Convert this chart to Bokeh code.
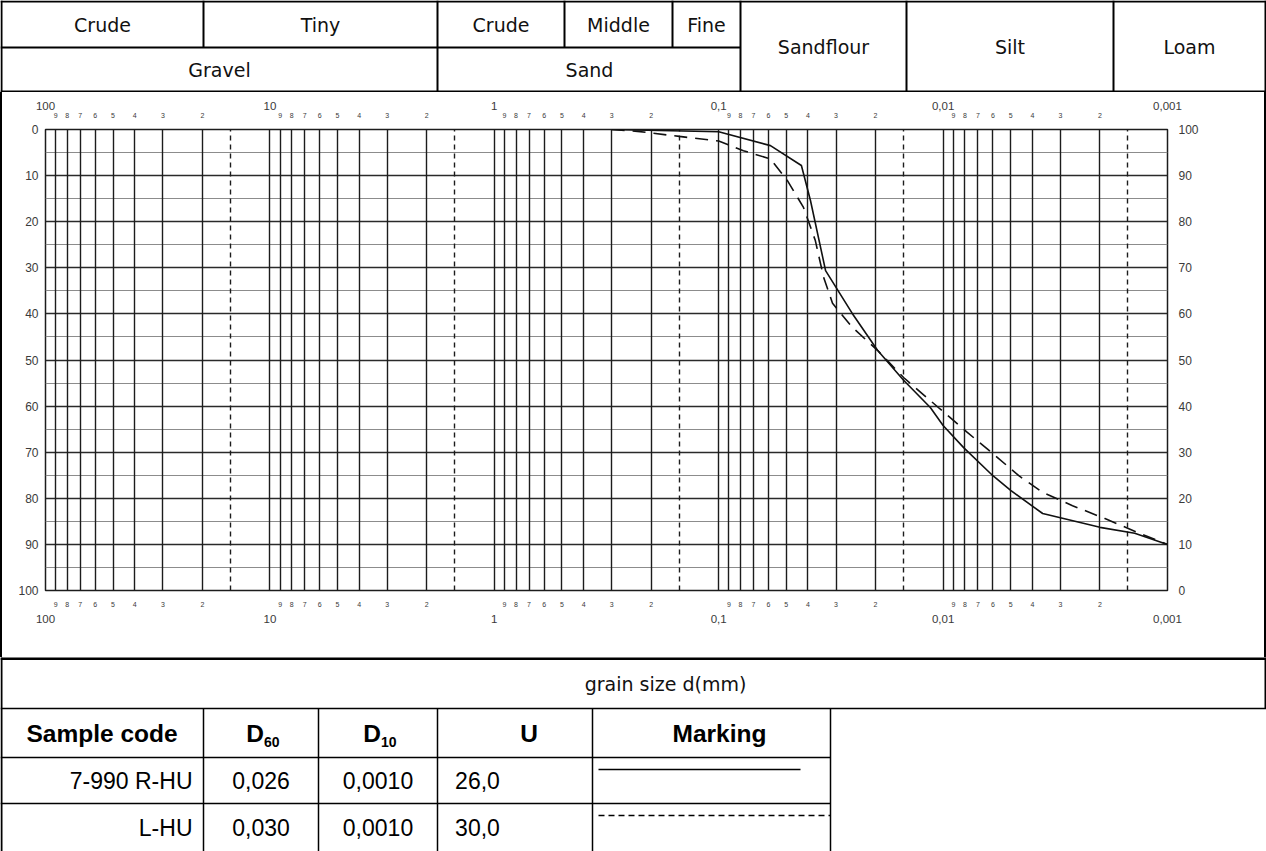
from bokeh.plotting import figure
from bokeh.models import Range1d, LinearAxis, LogAxis, FixedTicker, Grid, Spacer
from bokeh.layouts import column, row
from bokeh.embed import file_html
from bokeh.resources import INLINE
from bokeh.core.properties import value

# ---------------- data ----------------
# grain size (mm) and percent passing
solid_d = [0.3, 0.1, 0.0588, 0.0428, 0.039, 0.0334, 0.0254, 0.0196, 0.0150, 0.0114,
           0.0100, 0.0081, 0.0060, 0.0050, 0.0036, 0.0020, 0.0014, 0.0010]
solid_pass = [100, 99.5, 96.5, 92.2, 84.6, 69.4, 60.1, 52.1, 45.6, 39.7,
              35.8, 31.0, 24.9, 21.7, 16.7, 13.7, 12.4, 10.0]
dashed_d = [0.3, 0.23, 0.15, 0.10, 0.0776, 0.0588, 0.0494, 0.0419, 0.0371, 0.0341,
            0.0311, 0.0254, 0.0196, 0.0150, 0.0105, 0.0078, 0.0060, 0.0046, 0.0036,
            0.00265, 0.0019, 0.00136, 0.0010]
dashed_pass = [100, 99.6, 98.5, 97.5, 95.4, 93.6, 88.9, 83.1, 75.9, 68.0,
               62.3, 57.1, 52.1, 46.2, 39.7, 34.3, 29.7, 24.9, 21.3,
               18.4, 15.6, 12.6, 10.0]

decades = [100, 10, 1, 0.1, 0.01, 0.001]
decade_labels = ["100", "10", "1", "0,1", "0,01", "0,001"]
minor_digits = [9, 8, 7, 6, 5, 4, 3, 2]
boundary_sizes = [15, 1.5, 0.15, 0.015, 0.0015]
pct_ticks = [0, 10, 20, 30, 40, 50, 60, 70, 80, 90, 100]
pct_half_ticks = [5, 15, 25, 35, 45, 55, 65, 75, 85, 95]

header_row1 = ["Crude", "Tiny", "Crude", "Middle", "Fine"]
header_row2 = ["Gravel", "Sand"]
header_span = ["Sandflour", "Silt", "Loam"]

table_cols = ["Sample code", "D", "D", "U", "Marking"]
table_subs = ["", "60", "10", "", ""]
sample_codes = ["7-990 R-HU", "L-HU"]
d60_vals = ["0,026", "0,030"]
d10_vals = ["0,0010", "0,0010"]
u_vals = ["26,0", "30,0"]
marking_dash = ["solid", "6 4"]
axis_title = "grain size d(mm)"

# ---------------- helpers ----------------
minor_ticks = []
minor_labels = {}
for base in decades[1:]:
    for m in minor_digits:
        v = round(m * base, 6)
        minor_ticks.append(v)
        minor_labels[v] = str(m)
dec_label_map = dict(zip(decades, decade_labels))

INK = "#1c1c1c"
LBL = "#3a3a3a"
HFONT = "DejaVu Sans"
AFONT = "Liberation Sans"
HSIZE = "19px"

W = 1266

def bare(p):
    p.grid.visible = False
    return p

# ---------------- header ----------------
hdr = bare(figure(width=W, height=92, x_range=Range1d(0, W), y_range=Range1d(92, 0),
                  toolbar_location=None, output_backend="svg", min_border=0,
                  x_axis_location=None, y_axis_location=None, outline_line_color=None))
r1 = [1, 203, 437, 564, 672, 740]
span_edges = [740, 906, 1113, 1265]
hx0 = [0, 0, 0, 1, 1265, 203, 437, 564, 672, 740, 906, 1113]
hy0 = [1, 47, 91, 0, 0, 0, 0, 0, 0, 0, 0, 0]
hx1 = [W, 740, W, 1, 1265, 203, 437, 564, 672, 740, 906, 1113]
hy1 = [1, 47, 91, 92, 92, 47, 92, 47, 47, 92, 92, 92]
hdr.segment(hx0, hy0, hx1, hy1, line_color="#000", line_width=2)
hdr.text([(r1[i] + r1[i + 1]) / 2 for i in range(5)], [24] * 5, text=header_row1,
         text_align="center", text_baseline="middle", text_font=value(HFONT),
         text_font_size=HSIZE, text_color="#111")
hdr.text([219, 589], [69, 69], text=header_row2,
         text_align="center", text_baseline="middle", text_font=value(HFONT),
         text_font_size=HSIZE, text_color="#111")
hdr.text([(span_edges[i] + span_edges[i + 1]) / 2 for i in range(3)], [46] * 3, text=header_span,
         text_align="center", text_baseline="middle", text_font=value(HFONT),
         text_font_size=HSIZE, text_color="#111")

# ---------------- main chart ----------------
main = bare(figure(width=1262, height=565, x_axis_type="log", x_range=Range1d(100, 0.001),
                   y_range=Range1d(0, 100), x_axis_location=None, y_axis_location=None,
                   toolbar_location=None, output_backend="svg",
                   min_border_left=43, min_border_right=97, min_border_top=37, min_border_bottom=67))
main.extra_y_ranges = {"ret": Range1d(100, 0)}
main.outline_line_color = INK
main.outline_line_width = 1.5

main.add_layout(Grid(dimension=1, ticker=FixedTicker(ticks=pct_half_ticks),
                     grid_line_color="#8c8c8c", grid_line_width=1))
main.add_layout(Grid(dimension=1, ticker=FixedTicker(ticks=pct_ticks),
                     grid_line_color="#2a2a2a", grid_line_width=1.3))
main.add_layout(Grid(dimension=0, ticker=FixedTicker(ticks=decades + minor_ticks),
                     grid_line_color=INK, grid_line_width=1.4))
main.add_layout(Grid(dimension=0, ticker=FixedTicker(ticks=boundary_sizes),
                     grid_line_color=INK, grid_line_width=1.4, grid_line_dash="5 4"))

def style_axis(ax, size, standoff):
    ax.axis_line_color = None
    ax.major_tick_line_color = None
    ax.minor_tick_line_color = None
    ax.major_tick_in = 0
    ax.major_tick_out = 0
    ax.minor_tick_in = 0
    ax.minor_tick_out = 0
    ax.major_label_text_font = AFONT
    ax.major_label_text_font_size = size
    ax.major_label_text_color = LBL
    ax.major_label_standoff = standoff

# bottom: minors then decades
bmin = LogAxis(ticker=FixedTicker(ticks=minor_ticks), major_label_overrides=minor_labels)
style_axis(bmin, "7px", 11)
main.add_layout(bmin, "below")
bdec = LogAxis(ticker=FixedTicker(ticks=decades), major_label_overrides=dec_label_map)
style_axis(bdec, "11.5px", 5)
main.add_layout(bdec, "below")
# top
tmin = LogAxis(ticker=FixedTicker(ticks=minor_ticks), major_label_overrides=minor_labels)
style_axis(tmin, "7px", 12)
main.add_layout(tmin, "above")
tdec = LogAxis(ticker=FixedTicker(ticks=decades), major_label_overrides=dec_label_map)
style_axis(tdec, "11.5px", 0)
main.add_layout(tdec, "above")
# left (retained) and right (passing)
lax = LinearAxis(y_range_name="ret", ticker=FixedTicker(ticks=pct_ticks))
style_axis(lax, "12px", 7)
main.add_layout(lax, "left")
rax = LinearAxis(ticker=FixedTicker(ticks=pct_ticks))
style_axis(rax, "12px", 11)
main.add_layout(rax, "right")

main.line(solid_d, solid_pass, line_color="#111", line_width=1.6)
main.line(dashed_d, dashed_pass, line_color="#111", line_width=1.6, line_dash="13 8")

side_l = Spacer(width=2, height=565, styles={"background-color": "#000"})
side_r = Spacer(width=2, height=565, styles={"background-color": "#000"})

# ---------------- footer ----------------
ftr = bare(figure(width=W, height=194, x_range=Range1d(0, W), y_range=Range1d(851, 657),
                  toolbar_location=None, output_backend="svg", min_border=0,
                  x_axis_location=None, y_axis_location=None, outline_line_color=None))
cols = [0, 203, 318, 437, 592, 830]
rows_y = [708, 757, 803, 851]
fx0 = [0, 0, 0, 0, 1, 1265, 203, 318, 437, 592, 830]
fy0 = [658, 708, 757, 803, 657, 657, 708, 708, 708, 708, 708]
fx1 = [W, W, 830, 830, 1, 1265, 203, 318, 437, 592, 830]
fy1 = [658, 708, 757, 803, 851, 708, 851, 851, 851, 851, 851]
fw = [3, 1.5, 1.5, 1.5, 2, 2, 1.5, 1.5, 1.5, 1.5, 1.5]
ftr.segment(fx0, fy0, fx1, fy1, line_color="#000", line_width=fw)
ftr.text([665], [683], text=[axis_title], text_align="center", text_baseline="middle",
         text_font=value(HFONT), text_font_size=HSIZE, text_color="#111")
hx = [(cols[i] + cols[i + 1]) / 2 for i in range(5)]
ftr.text([hx[0], hx[1] - 6, hx[2] - 6, hx[3] + 14, hx[4] + 8], [733] * 5, text=table_cols,
         text_align="center", text_baseline="middle", text_font=value(AFONT),
         text_font_style="bold", text_font_size="24.5px", text_color="#000")
ftr.text([hx[1] + 3, hx[2] + 3], [741, 741], text=table_subs[1:3], text_align="left",
         text_baseline="middle", text_font=value(AFONT), text_font_style="bold",
         text_font_size="14px", text_color="#000")
ry = [(rows_y[1] + rows_y[2]) / 2, (rows_y[2] + rows_y[3]) / 2]
ftr.text([192, 192], ry, text=sample_codes, text_align="right", text_baseline="middle",
         text_font=value(AFONT), text_font_size="23px", text_color="#000")
ftr.text([hx[1]] * 2, ry, text=d60_vals, text_align="center", text_baseline="middle",
         text_font=value(AFONT), text_font_size="23px", text_color="#000")
ftr.text([hx[2]] * 2, ry, text=d10_vals, text_align="center", text_baseline="middle",
         text_font=value(AFONT), text_font_size="23px", text_color="#000")
ftr.text([477] * 2, ry, text=u_vals, text_align="center", text_baseline="middle",
         text_font=value(AFONT), text_font_size="23px", text_color="#000")
for i, dash in enumerate(marking_dash):
    yy = rows_y[i + 1] + 12
    ftr.line([598, 800 if i == 0 else 830], [yy, yy], line_color="#000", line_width=1.5,
             line_dash=dash)

layout = column(hdr, row(side_l, main, side_r), ftr)
open("out.html", "w").write(file_html(layout, INLINE))
